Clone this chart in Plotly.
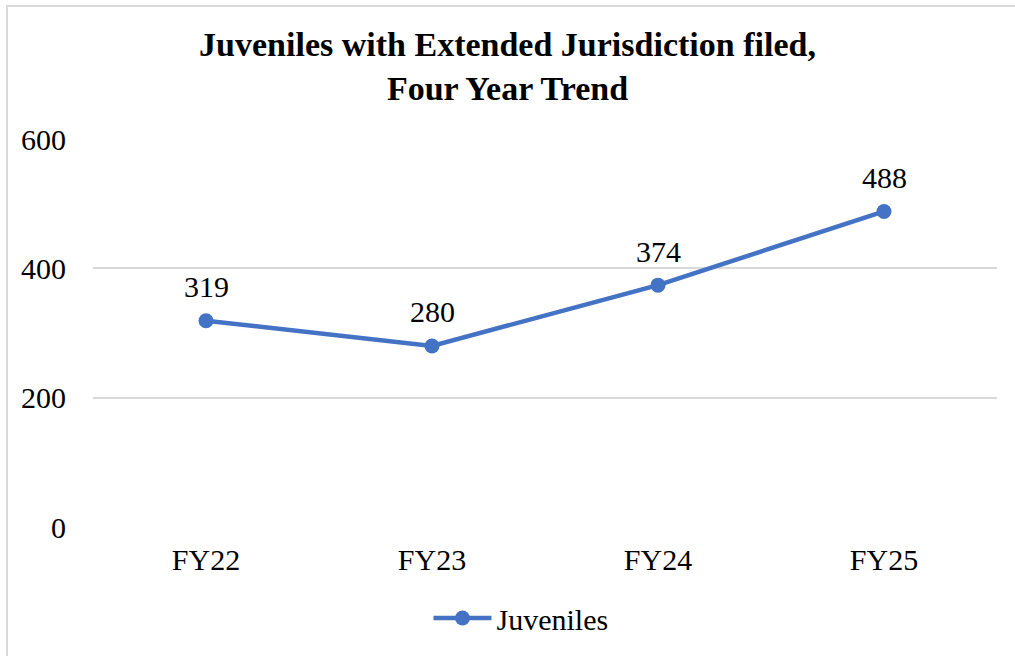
import plotly.graph_objects as go

# Fiscal years and number of juveniles with extended jurisdiction filed
years = ["FY22", "FY23", "FY24", "FY25"]
juveniles = [319, 280, 374, 488]
y_ticks = [0, 200, 400, 600]

BLUE = "#4472C4"
FONT = "Liberation Serif, Times New Roman, serif"

W, H = 1015, 656
L, R, T, B = 93, 18, 139, 129
pw, ph = W - L - R, H - T - B


def px_x(p):
    return (p - L) / pw


def px_y(p):
    return (H - B - p) / ph


fig = go.Figure()
fig.add_trace(go.Scatter(
    x=years,
    y=juveniles,
    name="Juveniles",
    mode="lines+markers",
    line=dict(color=BLUE, width=4.5),
    marker=dict(color=BLUE, size=15),
    cliponaxis=False,
    hoverinfo="skip",
))

# Value labels above each point
for yr, v in zip(years, juveniles):
    fig.add_annotation(
        x=yr, y=v, text=str(v), showarrow=False,
        yanchor="middle", yshift=34,
        font=dict(family=FONT, size=30, color="#000000"),
    )

fig.update_layout(
    width=W,
    height=H,
    margin=dict(l=L, r=R, t=T, b=B, pad=0),
    paper_bgcolor="white",
    plot_bgcolor="white",
    font=dict(family=FONT, size=30, color="#000000"),
    title=dict(
        text="<b>Juveniles with Extended Jurisdiction filed,<br>Four Year Trend</b>",
        font=dict(family=FONT, size=34, color="#000000"),
        x=0.5,
        xanchor="center",
        y=1 - 56 / H,
        yanchor="middle",
    ),
    xaxis=dict(
        type="category",
        range=[-0.5, 3.5],
        showgrid=False,
        showline=False,
        zeroline=False,
        ticks="",
        ticklabelstandoff=12,
        tickfont=dict(family=FONT, size=30),
    ),
    yaxis=dict(
        range=[0, 600],
        tickvals=y_ticks,
        ticktext=[str(v) for v in y_ticks],
        showgrid=True,
        gridcolor="#d9d9d9",
        gridwidth=2,
        zeroline=False,
        showline=False,
        ticks="",
        ticklabelstandoff=26,
        tickfont=dict(family=FONT, size=30),
    ),
    showlegend=True,
    legend=dict(
        orientation="h",
        x=px_x(521),
        xanchor="center",
        y=px_y(618),
        yanchor="middle",
        itemwidth=58,
        font=dict(family=FONT, size=30),
        bgcolor="rgba(0,0,0,0)",
    ),
    shapes=[
        # Chart frame (light grey border)
        dict(type="rect", xref="paper", yref="paper",
             x0=px_x(7), x1=px_x(1040), y0=px_y(6), y1=px_y(680),
             line=dict(color="#d9d9d9", width=2), fillcolor="rgba(0,0,0,0)",
             layer="below"),
    ],
)

fig.write_html("out.html")
